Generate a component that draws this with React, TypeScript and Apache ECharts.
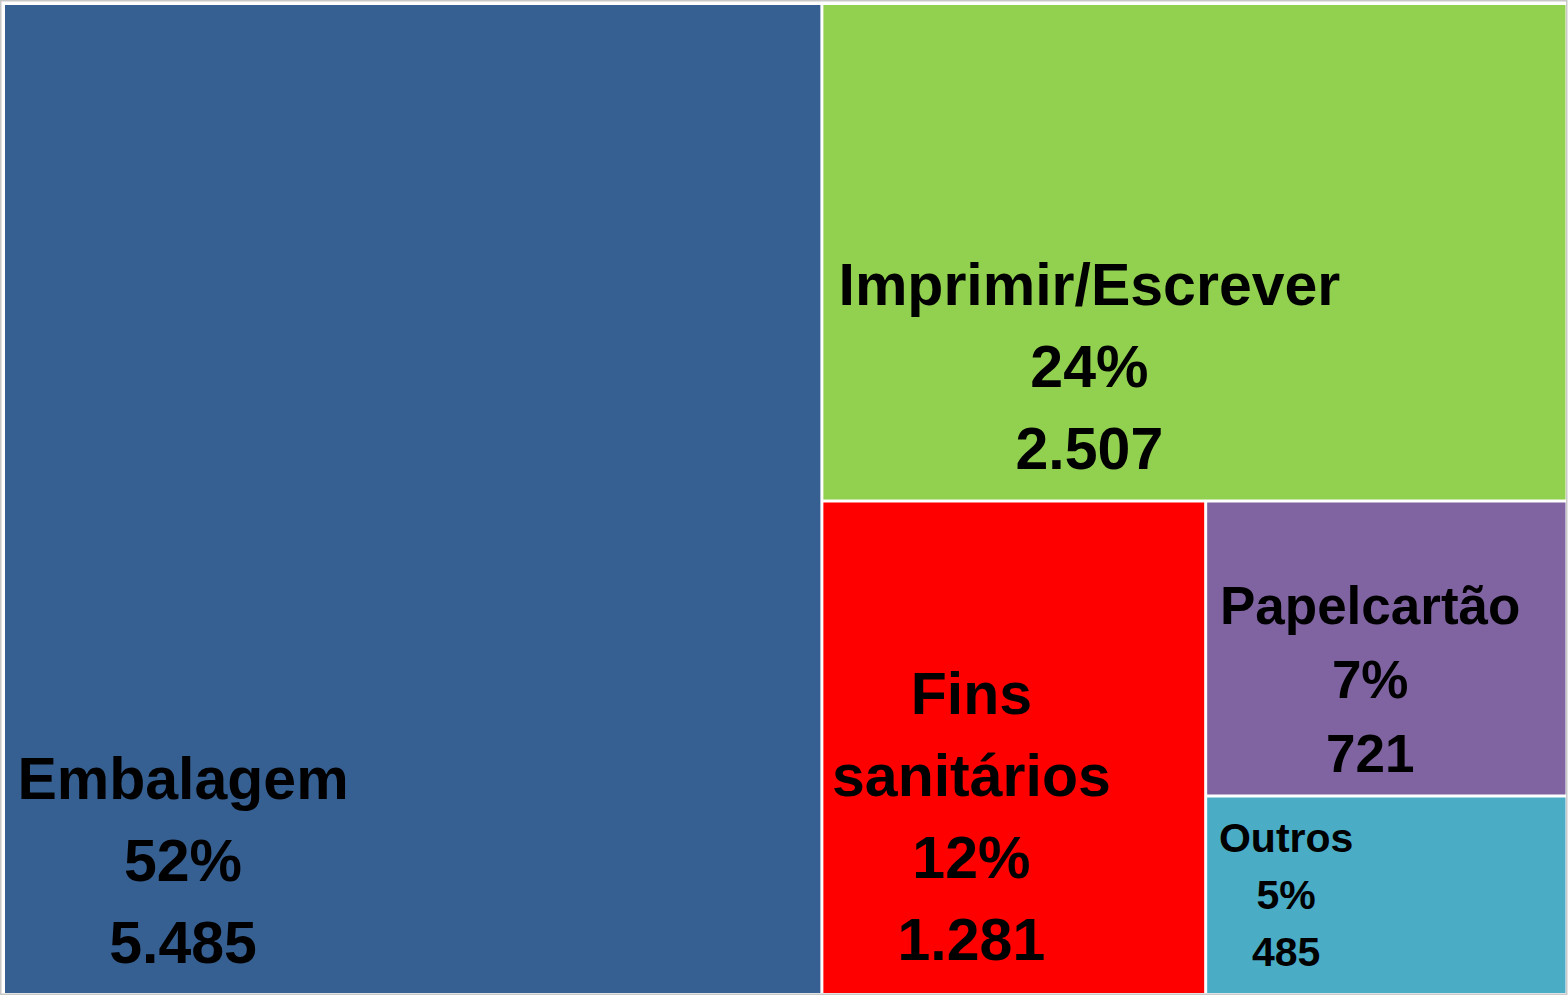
import React, { useEffect, useRef } from "react";
import * as echarts from "echarts";

const categories = ["Embalagem", "Imprimir/Escrever", "Fins sanitários", "Papelcartão", "Outros"];
const labelNames = ["Embalagem", "Imprimir/Escrever", "Fins\nsanitários", "Papelcartão", "Outros"];
const values = [5485, 2507, 1281, 721, 485];
const colors = ["#376092", "#92D050", "#FF0000", "#8064A2", "#4BACC6"];
// label anchor offsets inside each tile (px), font sizes
const labelOffsets = [
  [178, 856],
  [266, 362],
  [148, 315],
  [163, 177],
  [79, 97],
];
const fontSizes = [59, 59, 59, 53, 41];
const lineHeights = [82, 82, 82, 74, 57];

const FONT = "'Liberation Sans', Arial, sans-serif";

function fmt(v: number): string {
  return String(v).replace(/\B(?=(\d{3})+(?!\d))/g, ".");
}

export default function App() {
  const ref = useRef<HTMLDivElement>(null);
  useEffect(() => {
    if (!ref.current) return;
    const chart = echarts.init(ref.current, undefined, { renderer: "svg" });
    const total = values.reduce((a, b) => a + b, 0);
    const data = categories.map((name, i) => ({
      name,
      value: values[i],
      itemStyle: { color: colors[i], borderColor: "#ffffff", borderWidth: 1.5, gapWidth: 0 },
      label: {
        show: true,
        position: labelOffsets[i],
        align: "center",
        verticalAlign: "middle",
        fontSize: fontSizes[i],
        lineHeight: lineHeights[i],
        fontWeight: "bold",
        fontFamily: FONT,
        color: "#000000",
        padding: 0,
        overflow: "none",
        formatter: () =>
          `${labelNames[i]}\n${Math.round((values[i] / total) * 100)}%\n${fmt(values[i])}`,
      },
    }));
    chart.setOption({
      animation: false,
      backgroundColor: "#ffffff",
      graphic: [
        {
          type: "rect",
          shape: { x: 0.75, y: 0.75, width: 1566, height: 993.5 },
          style: { fill: "none", stroke: "#c8c8c8", lineWidth: 1.5 },
          silent: true,
          z: 100,
        },
      ],
      series: [
        {
          type: "treemap",
          left: 3.5,
          top: 3.5,
          width: 1563.5,
          height: 991,
          squareRatio: 1,
          roam: false,
          nodeClick: false,
          breadcrumb: { show: false },
          emphasis: { disabled: true },
          levels: [
            { itemStyle: { borderWidth: 0, gapWidth: 0, borderColor: "#ffffff" } },
            { itemStyle: { borderWidth: 1.5, gapWidth: 0, borderColor: "#ffffff" } },
          ],
          data,
        },
      ],
    });
    return () => chart.dispose();
  }, []);
  return (
    <div
      ref={ref}
      style={{ position: "fixed", left: 0, top: 0, width: 1568, height: 995 }}
    />
  );
}
